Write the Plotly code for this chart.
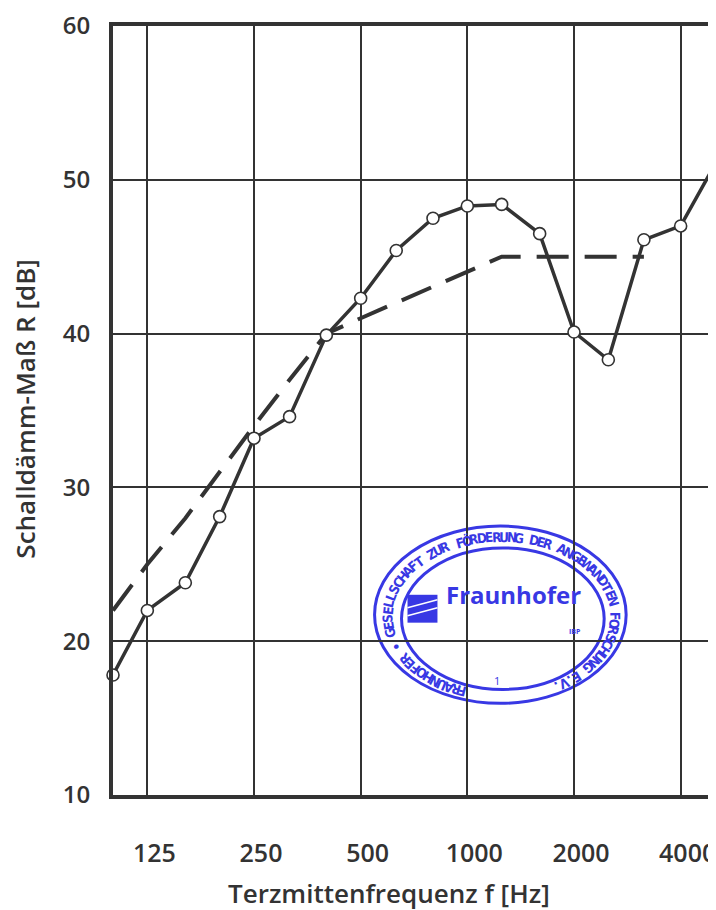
import numpy as np
import plotly.graph_objects as go

# ---------------- data ----------------
freq = [100, 125, 160, 200, 250, 315, 400, 500, 630, 800, 1000, 1250,
        1600, 2000, 2500, 3150, 4000, 5000]
r_measured = [17.8, 22.0, 23.8, 28.1, 33.2, 34.6, 39.9, 42.3, 45.4, 47.5,
              48.3, 48.4, 46.5, 40.1, 38.3, 46.1, 47.0, 51.0]
ref_freq = [100, 125, 160, 200, 250, 315, 400, 500, 630, 800, 1000, 1250,
            1600, 2000, 2500, 3150]
r_reference = [22, 25, 28, 31, 34, 37, 40, 41, 42, 43, 44, 45, 45, 45, 45, 45]
x_tickvals = [125, 250, 500, 1000, 2000, 4000]
x_ticktext = ["125", "250", "500", "1000", "2000", "4000"]
y_tickvals = [10, 20, 30, 40, 50, 60]
x_title = "Terzmittenfrequenz f [Hz]"
y_title = "Schalldämm-Maß R [dB]"
stamp_ring = "FRAUNHOFER • GESELLSCHAFT ZUR FÖRDERUNG DER ANGEWANDTEN FORSCHUNG E.V."
stamp_name = "Fraunhofer"

# ---------------- layout geometry ----------------
OFF = 8                      # page body margin in the browser
W, H = 716 - OFF, 910 - OFF
L, T, R = 113 - OFF, 23 - OFF, 0
PW, PH = W - L - R, 772
B = H - T - PH
INK = "#333333"
BLUE = "rgb(56,56,228)"
FONT = "Open Sans"
NARROW = "Liberation Sans Narrow, DejaVu Sans Condensed, Open Sans"


def pp(x, y):
    """window pixel -> paper coordinates"""
    return (x - OFF - L) / PW, 1 - (y - OFF - T) / PH


fig = go.Figure()

fig.add_trace(go.Scatter(
    x=ref_freq, y=r_reference, mode="lines",
    line=dict(color=INK, width=4, dash="32px,16px"),
    hoverinfo="skip", showlegend=False))

fig.add_trace(go.Scatter(
    x=freq, y=r_measured, mode="lines+markers", cliponaxis=False,
    line=dict(color=INK, width=3.5),
    marker=dict(size=12, color="white", line=dict(color=INK, width=1.6)),
    showlegend=False))

shapes = []
annotations = []

# ---------------- stamp (decoration) ----------------
for (x0, y0, x1, y1) in [(375, 525, 627, 703), (402, 547, 605, 689)]:
    a0, b0 = pp(x0, y1)
    a1, b1 = pp(x1, y0)
    shapes.append(dict(type="circle", xref="paper", yref="paper",
                       x0=a0, y0=b0, x1=a1, y1=b1, layer="below",
                       line=dict(color=BLUE, width=3)))

lx0, ly0 = pp(408, 622)
lx1, ly1 = pp(438, 594)
shapes.append(dict(type="rect", xref="paper", yref="paper", x0=lx0, y0=ly0,
                   x1=lx1, y1=ly1, fillcolor=BLUE, line=dict(width=0),
                   layer="below"))
for (sx0, sy0, sx1, sy1) in [(408, 607, 438, 599), (408, 615, 438, 607)]:
    a0, b0 = pp(sx0, sy0)
    a1, b1 = pp(sx1, sy1)
    shapes.append(dict(type="line", xref="paper", yref="paper", x0=a0, y0=b0,
                       x1=a1, y1=b1, line=dict(color="white", width=1.5),
                       layer="below"))

nx, ny = pp(514, 612)
annotations.append(dict(xref="paper", yref="paper", x=nx, y=ny,
                        text=stamp_name, showarrow=False,
                        font=dict(family=FONT, size=24, color=BLUE, weight=700)))
ix, iy = pp(584, 637)
annotations.append(dict(xref="paper", yref="paper", x=ix, y=iy, text="IBP",
                        showarrow=False,
                        font=dict(family=FONT, size=7, color=BLUE, weight=700)))
ox, oy = pp(498, 690)
annotations.append(dict(xref="paper", yref="paper", x=ox, y=oy, text="1",
                        showarrow=False,
                        font=dict(family=FONT, size=11, color=BLUE)))

cx, cy, ea, eb = 502, 616, 114, 80


def ring(text, t0, t1):
    """place characters clockwise along the ellipse, tops pointing outward"""
    ts = np.radians(np.linspace(t0, t1, 4000))
    xs = cx + ea * np.cos(ts)
    ys = cy - eb * np.sin(ts)
    seg = np.hypot(np.diff(xs), np.diff(ys))
    cum = np.concatenate([[0], np.cumsum(seg)])
    n = len(text)
    for k, ch in enumerate(text):
        if ch == " ":
            continue
        s = (k + 0.5) / n * cum[-1]
        t = np.interp(s, cum, ts)
        x = cx + ea * np.cos(t)
        y = cy - eb * np.sin(t)
        ang = np.degrees(np.arctan2(eb * np.cos(t), ea * np.sin(t)))
        px_, py_ = pp(x, y)
        annotations.append(dict(xref="paper", yref="paper", x=px_, y=py_,
                                text=ch, showarrow=False, textangle=ang,
                                xanchor="center", yanchor="middle",
                                font=dict(family=NARROW, size=13.5, color=BLUE,
                                          weight=700)))


ring(stamp_ring, 252, -63)

# ---------------- titles ----------------
tx, ty = pp(389, 893)
annotations.append(dict(xref="paper", yref="paper", x=tx, y=ty, text=x_title,
                        showarrow=False, xanchor="center", yanchor="middle",
                        font=dict(family=FONT, size=26, color=INK, weight=600)))
vx, vy = pp(24, 408)
annotations.append(dict(xref="paper", yref="paper", x=vx, y=vy, text=y_title,
                        showarrow=False, textangle=-90, xanchor="center",
                        yanchor="middle",
                        font=dict(family=FONT, size=26, color=INK, weight=600)))

fig.update_layout(
    width=W, height=H,
    margin=dict(l=L, r=R, t=T, b=B, pad=0),
    paper_bgcolor="white", plot_bgcolor="white",
    shapes=shapes, annotations=annotations,
    font=dict(family=FONT, color=INK),
    xaxis=dict(type="log", range=[np.log10(100), np.log10(5000)],
               tickvals=x_tickvals, ticktext=x_ticktext,
               showgrid=True, gridcolor=INK, gridwidth=2,
               showline=True, linecolor=INK, linewidth=4, mirror=True,
               zeroline=False, ticks="", ticklabelstandoff=33,
               ticklabelshift=7, ticklabeloverflow="allow",
               tickfont=dict(family=FONT, size=25, color=INK, weight=600)),
    yaxis=dict(range=[10, 60], tickvals=y_tickvals,
               showgrid=True, gridcolor=INK, gridwidth=2,
               showline=True, linecolor=INK, linewidth=4, mirror=False,
               zeroline=False, ticks="", ticklabelstandoff=14,
               ticklabeloverflow="allow",
               tickfont=dict(family=FONT, size=24, color=INK, weight=600)),
)

fig.write_html("out.html")
